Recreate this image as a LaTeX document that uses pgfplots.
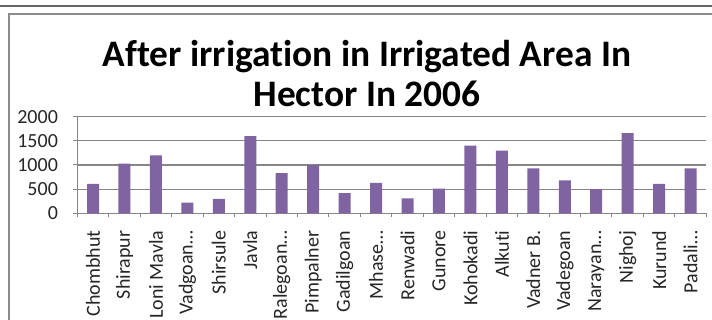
\documentclass[border=0pt]{standalone}
\usepackage{fontspec}
\setmainfont[Ligatures=NoCommon]{Carlito}
\usepackage{pgfplots}
\pgfplotsset{compat=1.18}
\definecolor{barpurple}{RGB}{128,100,162}
\definecolor{gridgray}{RGB}{134,134,134}
\definecolor{framegray}{RGB}{140,140,140}
\begin{document}
\begin{tikzpicture}
\path[use as bounding box] (0,0) rectangle (356pt,160pt);
\draw[line width=0.8pt, color={rgb,255:red,100;green,100;blue,100}] (0,157pt) -- (356pt,157pt);
\draw[line width=0.8pt, framegray] (4.5pt,-5pt) -- (4.5pt,153pt) -- (362pt,153pt);
\node[anchor=base, font=\fontsize{18.7}{20}\selectfont\bfseries, inner sep=0pt] at (183.5pt,126.5pt) {After irrigation in Irrigated Area In};
\node[anchor=base, font=\fontsize{18.7}{20}\selectfont\bfseries, inner sep=0pt] at (183.5pt,106.5pt) {Hector In 2006};
\begin{axis}[
  at={(38.65pt,53.35pt)}, anchor=south west,
  scale only axis, width=314.5pt, height=48.3pt,
  ybar, bar width=6pt,
  xmin=-0.5, xmax=19.5, ymin=0, ymax=2000,
  xtick={0,...,19},
  xticklabels={Chombhut,Shirapur,Loni Mavla,Vadgoan…,Shirsule,Javla,Ralegoan…,Pimpalner,Gadilgoan,Mhase…,Renwadi,Gunore,Kohokadi,Alkuti,Vadner B.,Vadegoan,Narayan…,Nighoj,Kurund,Padali…},
  minor xtick={-0.5,0.5,...,19.5},
  ytick={0,500,1000,1500,2000},
  axis x line*=bottom, axis y line*=left,
  axis line style={gridgray, line width=0.6pt, -},
  ymajorgrids, major grid style={gridgray, line width=0.6pt},
  tick align=outside,
  major tick length=2pt, minor tick length=2pt,
  tick style={gridgray, line width=0.5pt},
  xtick style={draw=none},
  minor x tick style={draw=gridgray, line width=0.5pt},
  /pgf/number format/assume math mode=true,
  /pgf/number format/1000 sep={},
  ticklabel style={font=\fontsize{10}{12}\selectfont, text=black!85},
  xticklabel style={rotate=90, anchor=east, inner sep=0pt},
  xticklabel shift=6.5pt,
  yticklabel style={anchor=east, inner sep=0pt},
  yticklabel shift=7.5pt,
]
\addplot[fill=barpurple, draw=none] coordinates {
(0,610) (1,1030) (2,1200) (3,220) (4,300) (5,1600) (6,830) (7,1000) (8,420) (9,630)
(10,310) (11,510) (12,1400) (13,1300) (14,930) (15,680) (16,500) (17,1660) (18,610) (19,930)
};
\end{axis}
\end{tikzpicture}
\end{document}
